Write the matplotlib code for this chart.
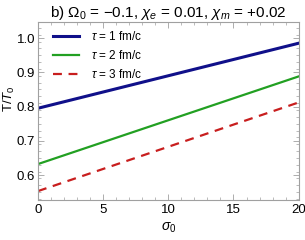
import matplotlib
matplotlib.use('Agg')
import matplotlib.pyplot as plt
import numpy as np

plt.rcParams['font.family'] = ['Liberation Sans', 'DejaVu Sans']
plt.rcParams['mathtext.fontset'] = 'custom'
plt.rcParams['mathtext.rm'] = 'Liberation Sans'
plt.rcParams['mathtext.it'] = 'Liberation Sans:italic'

sigma0 = [0, 20]
t_tau1 = [0.795, 0.985]
t_tau2 = [0.632, 0.888]
t_tau3 = [0.553, 0.812]
labels = [r'$\tau$ = 1 fm/c', r'$\tau$ = 2 fm/c', r'$\tau$ = 3 fm/c']
xticks = [0, 5, 10, 15, 20]
yticks = [0.6, 0.7, 0.8, 0.9, 1.0]

fig = plt.figure(figsize=(3.05, 2.4), dpi=100)
ax = fig.add_axes([0.1246, 0.1667, 0.8545, 0.7416])

ax.plot(sigma0, t_tau1, color='#10108a', lw=2.2, label=labels[0])
ax.plot(sigma0, t_tau2, color='#22a022', lw=1.6, label=labels[1])
ax.plot(sigma0, t_tau3, color='#c81e1e', lw=1.6, ls=(0, (4, 3)), label=labels[2])

ax.set_xlim(0, 20)
ax.set_ylim(0.527, 1.047)
ax.set_xticks(xticks)
ax.set_yticks(yticks)
ax.set_xticklabels([str(v) for v in xticks])
ax.set_yticklabels([f'{v:.1f}' for v in yticks])
ax.set_xticks(np.arange(0, 21, 1), minor=True)
ax.set_yticks(np.arange(0.53, 1.05, 0.02), minor=True)
ax.tick_params(which='both', direction='in', color='#a0a0a0', labelsize=9.5,
               top=True, right=True)
ax.tick_params(axis='y', pad=2)
ax.tick_params(axis='x', pad=3)
ax.tick_params(which='major', length=4, width=0.6)
ax.tick_params(which='minor', length=2, width=0.5)
for s in ax.spines.values():
    s.set_color('#a0a0a0')
    s.set_linewidth(0.8)

ax.set_xlabel(r'$\sigma_0$', fontsize=10, labelpad=3)
ax.set_ylabel(r'T/$T_0$', fontsize=9.5)
ax.yaxis.set_label_coords(-0.082, 0.57)
ax.set_title(r'b) $\Omega_0$ = $-$0.1, $\chi_e$ = 0.01, $\chi_m$ = +0.02',
             fontsize=11, pad=2)

ax.legend(loc='upper left', frameon=False, fontsize=8.5, handlelength=2.2,
          handletextpad=1.0, labelspacing=0.5, borderaxespad=0.3,
          bbox_to_anchor=(0.025, 1.0))

fig.savefig('out.png', dpi=100)
